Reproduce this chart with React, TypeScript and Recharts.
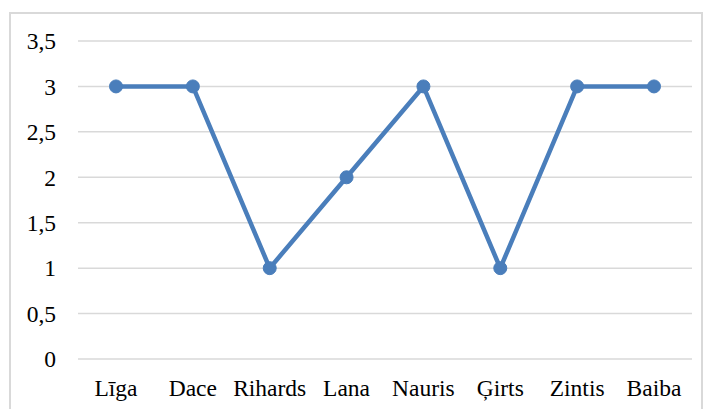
import React from "react";
import { LineChart, Line, XAxis, YAxis, CartesianGrid } from "recharts";

const names = ["Līga", "Dace", "Rihards", "Lana", "Nauris", "Ģirts", "Zintis", "Baiba"];
const values = [3, 3, 1, 2, 3, 1, 3, 3];
const yTicks = [0, 0.5, 1, 1.5, 2, 2.5, 3, 3.5];

const data = names.map((n, i) => ({ name: n, v: values[i] }));
const font = "'Times New Roman', 'Liberation Serif', serif";
const tickStyle = { fill: "#000", fontSize: 23.5, style: { fontFamily: font, fontSize: 23.5 } };

export default function App() {
  return (
    <div style={{ position: "absolute", left: 0, top: 0, width: 710, height: 409, overflow: "hidden", background: "#fff" }}>
      <div style={{ position: "absolute", left: 9, top: 12, width: 694, height: 420, border: "2px solid #d9d9d9", boxSizing: "border-box" }} />
      <LineChart width={710} height={409} data={data} margin={{ top: 41, right: 18, bottom: 20, left: 18 }}>
        <CartesianGrid vertical={false} stroke="#d9d9d9" strokeWidth={1.5} />
        <XAxis dataKey="name" axisLine={false} tickLine={false} tickSize={0} tickMargin={20} height={30}
          padding={{ left: 38, right: 38 }} interval={0} tick={tickStyle} />
        <YAxis domain={[0, 3.5]} ticks={yTicks} axisLine={false} tickLine={false} tickSize={0} tickMargin={22} width={60}
          tickFormatter={(v: number) => String(v).replace(".", ",")} tick={tickStyle} />
        <Line type="linear" dataKey="v" stroke="#4a7ebb" strokeWidth={4.5} isAnimationActive={false}
          dot={{ r: 6.5, fill: "#4a7ebb", stroke: "#4a7ebb", strokeWidth: 1 }} activeDot={false} />
      </LineChart>
    </div>
  );
}
